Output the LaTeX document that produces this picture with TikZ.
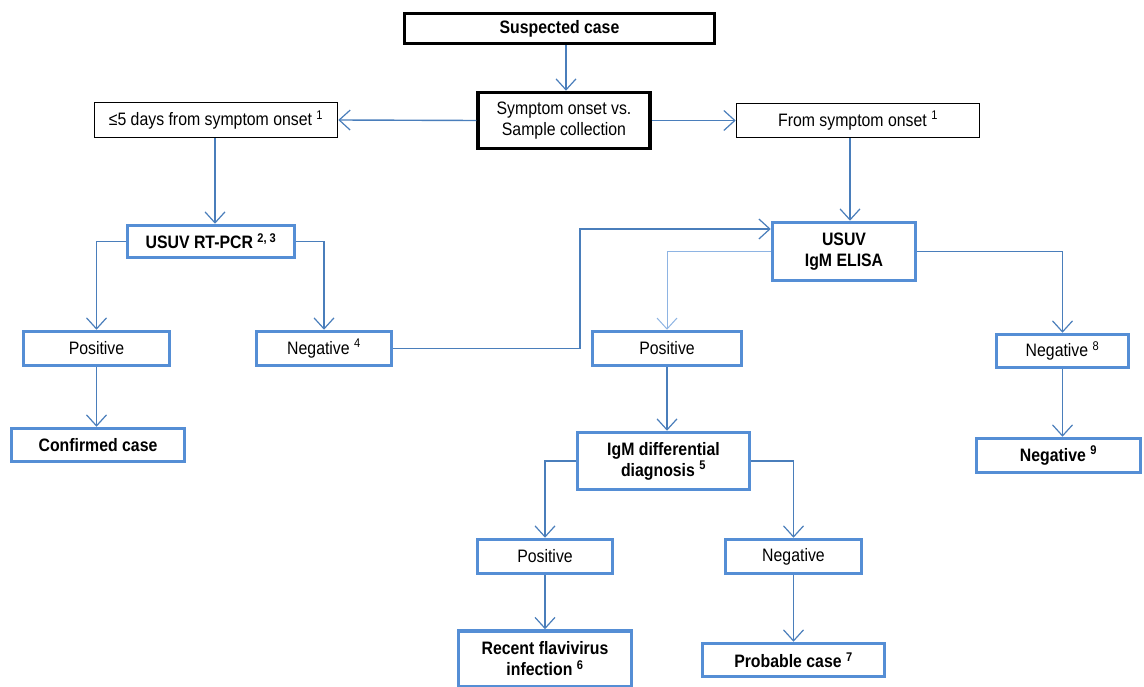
\documentclass[tikz,border=0pt]{standalone}
\usepackage{fontspec}
\setmainfont{Liberation Sans}[FakeStretch=0.88]
\usetikzlibrary{arrows.meta}
\definecolor{lineblue}{HTML}{4A7EBB}
\definecolor{boxblue}{HTML}{558ED5}
\definecolor{paleblue}{HTML}{8EB4E3}
\newcommand{\sus}[1]{\textsuperscript{#1}}
\begin{document}
\begin{tikzpicture}[x=1pt,y=-1pt,
  every node/.style={font=\fontsize{18}{21}\selectfont, align=center, inner sep=0pt},
  blackthick/.style={draw=black, line width=3.5pt, fill=white},
  blackthin/.style={draw=black, line width=1.6pt, fill=white},
  bluebox/.style={draw=boxblue, line width=3.5pt, fill=white},
  bf/.style={font=\fontsize{18}{21}\selectfont\bfseries},
  conn/.style={draw=lineblue, line width=1.4pt, -{Straight Barb[length=11pt,width=20pt,line width=1.2pt]}},
  thinconn/.style={draw=paleblue, line width=1pt, -{Straight Barb[length=11pt,width=20pt,line width=1pt]}}]
\useasboundingbox (0,0) rectangle (1144,687);
% nodes
\node[blackthick, bf, minimum width=310pt, minimum height=30pt] (sus) at (559.5,28.5) {Suspected case};
\node[blackthick, minimum width=172pt, minimum height=56pt] (sym) at (564,120.5) {Symptom onset vs.\\Sample collection};
\node[blackthin, minimum width=243pt, minimum height=35pt] (d5) at (216,120) {≤5 days from symptom onset \sus{1}};
\node[blackthin, minimum width=243pt, minimum height=34pt] (from) at (858,120.5) {From symptom onset \sus{1}};
\node[bluebox, bf, minimum width=167pt, minimum height=32pt] (pcr) at (211,241.5) {USUV RT-PCR \sus{2, 3}};
\node[bluebox, bf, minimum width=143pt, minimum height=58pt] (elisa) at (844,251.5) {USUV\\IgM ELISA};
\node[bluebox, minimum width=146pt, minimum height=34pt] (posL) at (96.5,348.5) {Positive};
\node[bluebox, minimum width=135pt, minimum height=34pt] (negL) at (324,348.5) {Negative \sus{4}};
\node[bluebox, bf, minimum width=173pt, minimum height=33pt] (conf) at (98,445) {Confirmed case};
\node[bluebox, minimum width=149pt, minimum height=34pt] (posM) at (667,348.5) {Positive};
\node[bluebox, minimum width=132pt, minimum height=33pt] (neg8) at (1062.5,351) {Negative \sus{8}};
\node[bluebox, bf, minimum width=164pt, minimum height=34pt] (neg9) at (1058.5,455.5) {Negative \sus{9}};
\node[bluebox, bf, minimum width=172pt, minimum height=57pt] (diff) at (663.5,461) {IgM differential\\diagnosis \sus{5}};
\node[bluebox, minimum width=135pt, minimum height=34pt] (posB) at (545,556.5) {Positive};
\node[bluebox, minimum width=136pt, minimum height=34pt] (negB) at (793.5,556.5) {Negative};
\node[bluebox, bf, minimum width=173pt, minimum height=56pt] (rec) at (545,659) {Recent flavivirus\\infection \sus{6}};
\node[bluebox, bf, minimum width=182pt, minimum height=33pt] (prob) at (793.5,660) {Probable case \sus{7}};
% helper coordinates
\coordinate (xs) at (566,0);
\coordinate (xe) at (850,0);
\coordinate (xj) at (580,0);
\coordinate (y229) at (0,229);
% connectors
\draw[conn] (xs |- sus.south) -- (xs |- sym.north);
\draw[conn] (sym.west) -- (d5.east);
\draw[conn] (sym.east |- from.west) -- (from.west);
\draw[conn] (215,0 |- d5.south) -- (215,0 |- pcr.north);
\draw[conn] (xe |- from.south) -- (xe |- elisa.north);
\draw[conn] (pcr.west) -| (posL.north);
\draw[conn] (pcr.east) -| (negL.north);
\draw[conn] (negL.east) -- (negL.east -| xj) |- (elisa.west |- y229);
\draw[thinconn] (elisa.west) -| (posM.north);
\draw[conn] (elisa.east) -| (neg8.north);
\draw[conn] (posL.south) -- (posL.south |- conf.north);
\draw[conn] (posM.south) -- (posM.south |- diff.north);
\draw[conn] (neg8.south) -- (neg8.south |- neg9.north);
\draw[conn] (diff.west) -| (posB.north);
\draw[conn] (diff.east) -| (negB.north);
\draw[conn] (posB.south) -- (rec.north);
\draw[conn] (negB.south) -- (prob.north);
\end{tikzpicture}
\end{document}
